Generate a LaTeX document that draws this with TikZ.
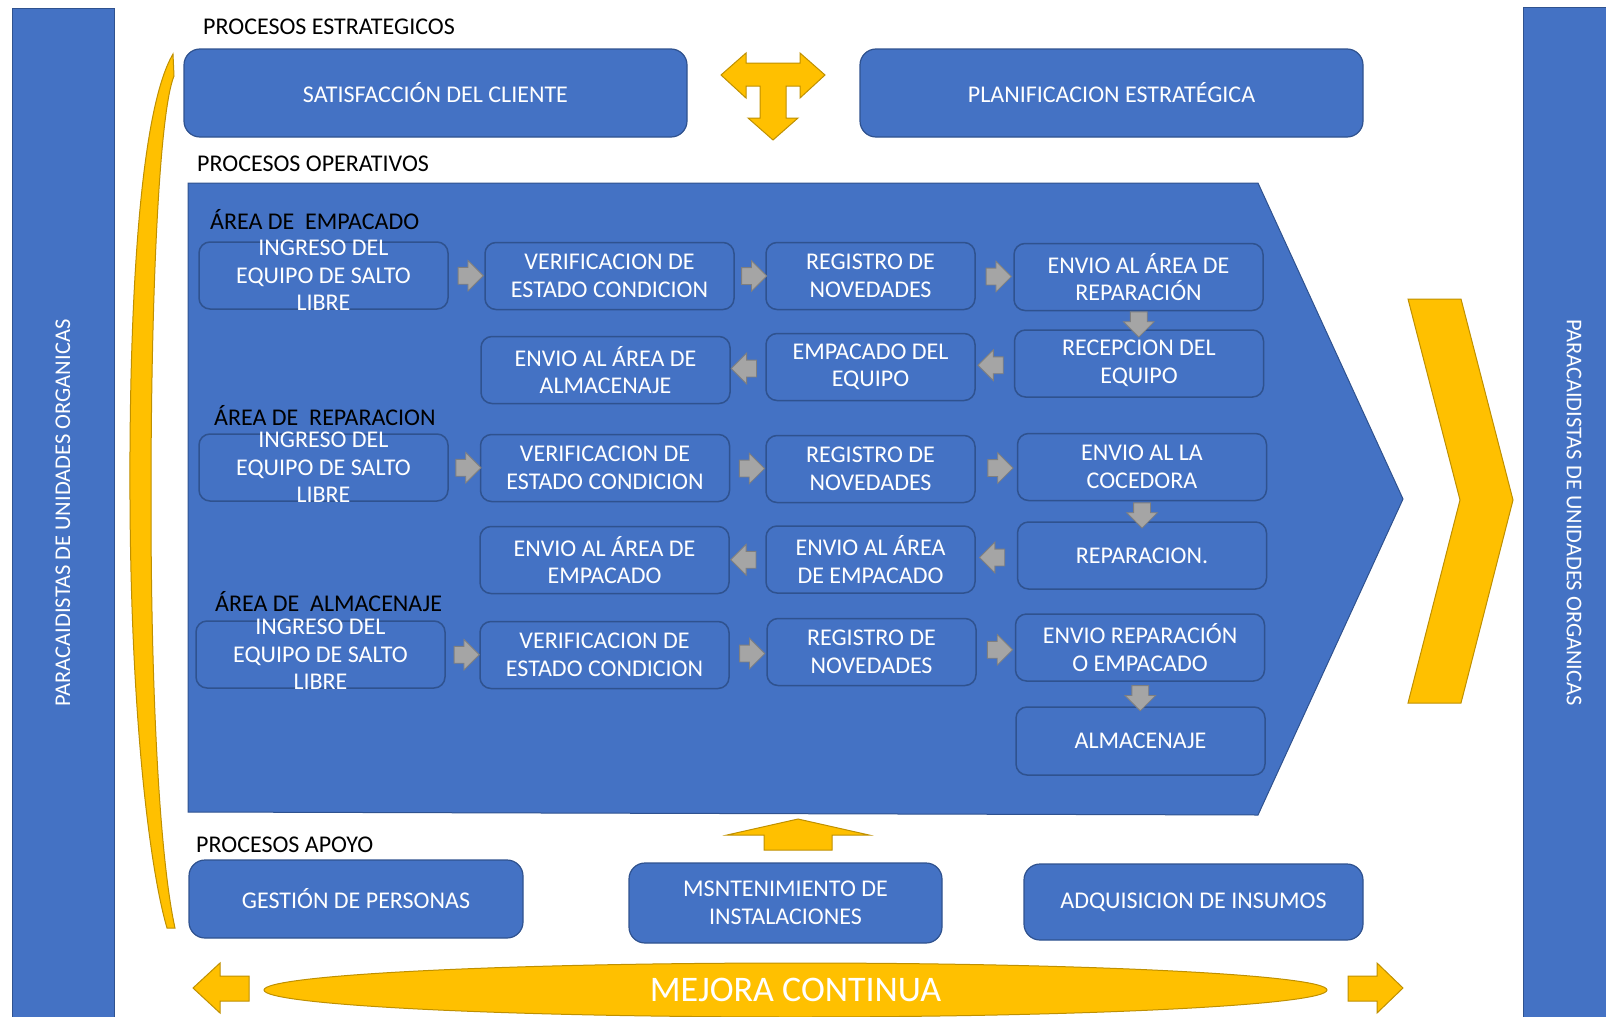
\documentclass[tikz,border=0pt]{standalone}
\usepackage{fontspec}
\setmainfont{Carlito}
\usetikzlibrary{shapes.arrows,shapes.geometric}
\definecolor{ofblue}{HTML}{4472C4}
\definecolor{ofblueline}{HTML}{2F528F}
\definecolor{ofyellow}{HTML}{FFC000}
\definecolor{ofyellowline}{HTML}{BF9000}
\definecolor{ofgray}{HTML}{A5A5A5}
\definecolor{ofgrayline}{HTML}{7F7F7F}
\begin{document}
\begin{tikzpicture}[x=1pt,y=-1pt,
    lbl/.style={anchor=west,inner sep=0pt,font=\fontsize{24}{28}\selectfont},
    box/.style={draw=ofblueline,line width=1.5pt,fill=ofblue,rounded corners=11pt,
        minimum width=249pt,minimum height=67pt,inner sep=0pt,
        text=white,align=center,font=\fontsize{24}{27.5}\selectfont},
    cbox/.style={box,minimum width=209pt},
    bigbox/.style={box,line width=1.2pt,rounded corners=16pt},
    ingtext/.style={text=white,align=center,inner sep=0pt,font=\fontsize{24}{27.5}\selectfont},
    garrow/.style={single arrow,draw=ofgrayline,fill=ofgray,line width=0.8pt,inner sep=8pt,
        minimum width=30pt,minimum height=25pt,single arrow head extend=7pt},
    dgarrow/.style={garrow,shape border rotate=270,minimum height=18pt},
    lgarrow/.style={garrow,shape border rotate=180},
    yel/.style={draw=ofyellowline,fill=ofyellow,line width=1pt},
    sidebar/.style={draw=ofblueline,line width=1pt,fill=ofblue,text=white,
        minimum width=1010pt,minimum height=102pt,inner sep=0pt,
        font=\fontsize{22.5}{27}\selectfont}]
    \useasboundingbox (0,0) rectangle (1606,1017);
    % side bars
    \node[sidebar,rotate=90] (lbar) at (63,513) {PARACAIDISTAS DE UNIDADES ORGANICAS};
    \node[sidebar,rotate=-90] (rbar) at (1574,512.5) {PARACAIDISTAS DE UNIDADES ORGANICAS};
    % curved arrow on the left
    \draw[yel] (173,54) .. controls (140,110) and (129,300) .. (130,500)
        .. controls (131,720) and (150,870) .. (167,928) -- (175,928)
        .. controls (160,860) and (151,700) .. (151,500)
        .. controls (151,280) and (160,110) .. (174,76) -- cycle;
    % strategic processes
    \node[lbl] (estr) at (203,27) {PROCESOS ESTRATEGICOS};
    \node[bigbox,minimum width=503pt,minimum height=88pt] (satis) at (435.5,93) {SATISFACCIÓN DEL CLIENTE};
    \node[bigbox,minimum width=503pt,minimum height=88pt] (plan) at (1111.5,93) {PLANIFICACION ESTRATÉGICA};
    \draw[yel] (721,75) -- (746,53) -- (746,63) -- (800,63) -- (800,53) -- (825,75) -- (800,98)
        -- (800,86) -- (786,86) -- (786,118) -- (798,118) -- (773,140) -- (748,118)
        -- (760,118) -- (760,86) -- (746,86) -- (746,98) -- cycle;
    % operative processes
    \node[lbl] (oper) at (197,164) {PROCESOS OPERATIVOS};
    \draw[draw=ofblueline,line width=1pt,fill=ofblue] (188,183) -- (1258,183) -- (1403,499)
        -- (1258,815) -- (188,812) -- cycle;
    \draw[yel] (1408,299) -- (1461,299) -- (1513,500) -- (1461,703) -- (1408,703) -- (1460,500) -- cycle;

    \node[lbl] (aemp) at (210,220) {ÁREA DE\ \ EMPACADO};
    \node[box] (a1) at (323.5,275.5) {};
    \node[ingtext] (a1t) at (a1) {INGRESO DEL\\EQUIPO DE SALTO\\LIBRE};
    \node[box] (b1) at (609.5,276) {VERIFICACION DE\\ESTADO CONDICION};
    \node[cbox] (c1) at (870.5,276) {REGISTRO DE\\NOVEDADES};
    \node[box] (d1) at (1138.5,277) {ENVIO AL ÁREA DE\\REPARACIÓN};
    \node[box] (d2) at (1139,363.5) {RECEPCION DEL\\EQUIPO};
    \node[cbox] (c2) at (870.5,367) {EMPACADO DEL\\EQUIPO};
    \node[box] (b2) at (605.5,370) {ENVIO AL ÁREA DE\\ALMACENAJE};
    \path (a1.east) -- node[garrow] (g11) {} (b1.west);
    \path (b1.east) -- node[garrow] (g12) {} (c1.west);
    \path (c1.east) -- node[garrow] (g13) {} (d1.west);
    \path (d1.south) -- node[dgarrow] (g14) {} (d2.north);
    \path (d2.west) -- node[lgarrow] (g15) {} (c2.east);
    \path (c2.west) -- node[lgarrow] (g16) {} (b2.east);

    \node[lbl] (arep) at (214,416) {ÁREA DE\ \ REPARACION};
    \node[box] (a3) at (323.5,467.5) {};
    \node[ingtext] (a3t) at (a3) {INGRESO DEL\\EQUIPO DE SALTO\\LIBRE};
    \node[box] (b3) at (605,468) {VERIFICACION DE\\ESTADO CONDICION};
    \node[cbox] (c3) at (870.5,469) {REGISTRO DE\\NOVEDADES};
    \node[box] (d3) at (1142,467) {ENVIO AL LA\\COCEDORA};
    \node[box] (d4) at (1142,555.5) {REPARACION.};
    \node[cbox] (c4) at (870.5,559.5) {ENVIO AL ÁREA\\DE EMPACADO};
    \node[box] (b4) at (604.5,560) {ENVIO AL ÁREA DE\\EMPACADO};
    \path (a3.east) -- node[garrow] (g31) {} (b3.west);
    \path (b3.east) -- node[garrow] (g32) {} (c3.west);
    \path (c3.east) -- node[garrow] (g33) {} (d3.west);
    \path (d3.south) -- node[dgarrow] (g34) {} (d4.north);
    \path (d4.west) -- node[lgarrow] (g35) {} (c4.east);
    \path (c4.west) -- node[lgarrow] (g36) {} (b4.east);

    \node[lbl] (aalm) at (215,602) {ÁREA DE\ \ ALMACENAJE};
    \node[box] (a5) at (320.5,654.5) {};
    \node[ingtext] (a5t) at (a5) {INGRESO DEL\\EQUIPO DE SALTO\\LIBRE};
    \node[box] (b5) at (604.5,655) {VERIFICACION DE\\ESTADO CONDICION};
    \node[cbox] (c5) at (871.5,652) {REGISTRO DE\\NOVEDADES};
    \node[box] (d5) at (1140,647.5) {ENVIO REPARACIÓN\\O EMPACADO};
    \node[box,minimum height=68pt] (d6) at (1140.5,741) {ALMACENAJE};
    \path (a5.east) -- node[garrow] (g51) {} (b5.west);
    \path (b5.east) -- node[garrow] (g52) {} (c5.west);
    \path (c5.east) -- node[garrow] (g53) {} (d5.west);
    \path (d5.south) -- node[dgarrow] (g54) {} (d6.north);
    % support processes
    \draw[yel] (727,835) -- (798,819) -- (869,835) -- (832,835) -- (832,850) -- (764,850) -- (764,835) -- cycle;
    \node[lbl] (apoyo) at (196,845) {PROCESOS APOYO};
    \node[bigbox,minimum width=334pt,minimum height=78pt] (gest) at (356,899) {GESTIÓN DE PERSONAS};
    \node[bigbox,minimum width=313pt,minimum height=80pt] (mant) at (785.5,903) {MSNTENIMIENTO DE\\INSTALACIONES};
    \node[bigbox,minimum width=339pt,minimum height=76pt] (adq) at (1193.5,902) {ADQUISICION DE INSUMOS};
    % continuous improvement
    \node[ellipse,yel,minimum width=1063pt,minimum height=54pt,inner sep=0pt,text=white,
        font=\fontsize{36}{40}\selectfont] (mejora) at (795.5,990) {MEJORA CONTINUA};
    \draw[yel] (193,988) -- (220,963) -- (220,976) -- (249,976) -- (249,1001) -- (220,1001) -- (220,1013) -- cycle;
    \draw[yel] (1403,988) -- (1377,963) -- (1377,976) -- (1348,976) -- (1348,1001) -- (1377,1001) -- (1377,1013) -- cycle;
\end{tikzpicture}
\end{document}
